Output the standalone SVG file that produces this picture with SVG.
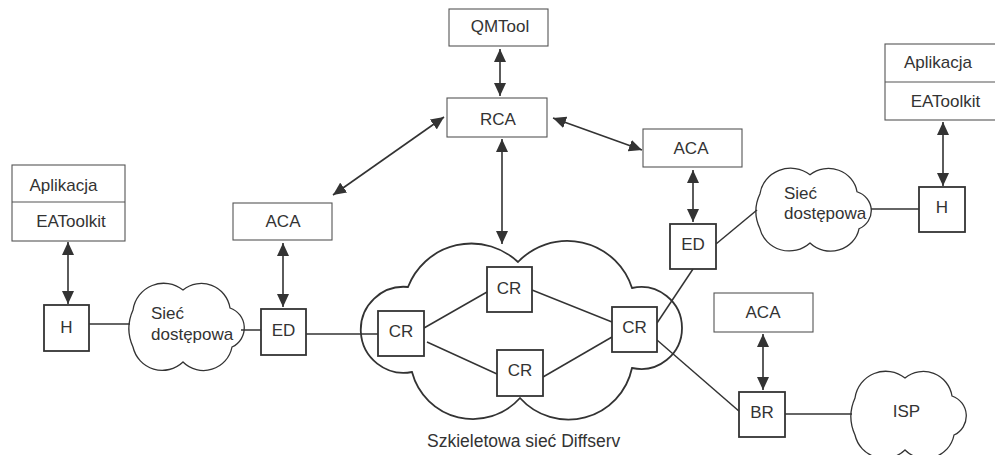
<svg xmlns="http://www.w3.org/2000/svg" width="995" height="455" viewBox="0 0 995 455">
  <style>
    text { font-family: "Liberation Sans", Arial, sans-serif; font-size: 17px; fill: #333; }
    .mid { text-anchor: middle; }
    .panel { fill: #fff; stroke: #555; stroke-width: 1.1; }
    .node { fill: #fff; stroke: #333; stroke-width: 1.8; }
    .cloud { fill: #fff; stroke: #333; stroke-width: 1.3; }
    .bigcloud { fill: #fff; stroke: #333; stroke-width: 1.8; }
    .link { stroke: #333; stroke-width: 1.5; fill: none; }
    .arrow { stroke: #333; stroke-width: 1.6; fill: none; marker-start: url(#head); marker-end: url(#head); }
  </style>
  <defs>
    <marker id="head" markerUnits="userSpaceOnUse" markerWidth="14" markerHeight="12" refX="13" refY="6" orient="auto-start-reverse">
      <path d="M0,0 L13,6 L0,12 z" fill="#333"/>
    </marker>
    <!-- small cloud outline, local origin at its top-left corner -->
    <path id="smallcloud" d="M4,27 A31,31 0 0 1 54,7 A29,29 0 0 1 101,25 A21,21 0 0 1 103,64 A29,29 0 0 1 54,79 A30,30 0 0 1 4,64 A45,45 0 0 1 4,27 Z"/>
  </defs>

  <rect width="995" height="455" fill="#fff"/>

  <!-- clouds -->
  <g id="backbone-cloud">
    <path class="bigcloud" d="M412,372 A43,43 0 1 1 408,287 A68,68 0 0 1 518,262 A68,68 0 0 1 632,288 A41,41 0 1 1 632,368 A65,65 0 0 1 520,398 A63,63 0 0 1 412,372 Z"/>
    <text x="427" y="447" style="font-size:17.5px">Szkieletowa sieć Diffserv</text>
  </g>
  <g id="access-left">
    <use href="#smallcloud" class="cloud" transform="translate(129,283)"/>
  </g>
  <g id="access-right">
    <use href="#smallcloud" class="cloud" transform="translate(756,168) scale(1,0.95)"/>
  </g>
  <g id="isp">
    <use href="#smallcloud" class="cloud" transform="translate(851,371)"/>
    <text class="mid" x="906.5" y="417">ISP</text>
  </g>

  <!-- connectors -->
  <g id="connectors">
    <line class="link" x1="89" y1="324" x2="130" y2="324"/>
    <line class="link" x1="241" y1="330" x2="261" y2="330"/>
    <line class="link" x1="306" y1="334" x2="378" y2="334"/>
    <line class="link" x1="424" y1="328" x2="487" y2="292"/>
    <line class="link" x1="427" y1="342" x2="497" y2="374"/>
    <line class="link" x1="532" y1="290" x2="612" y2="322"/>
    <line class="link" x1="543" y1="377" x2="612" y2="337"/>
    <line class="link" x1="693" y1="269" x2="657" y2="323"/>
    <line class="link" x1="657" y1="340" x2="740" y2="412"/>
    <line class="link" x1="716" y1="244" x2="757" y2="210"/>
    <line class="link" x1="871" y1="209" x2="919" y2="209"/>
    <line class="link" x1="785" y1="414" x2="852" y2="414"/>

    <line class="arrow" x1="68" y1="242" x2="68" y2="304"/>
    <line class="arrow" x1="283" y1="243" x2="283" y2="307"/>
    <line class="arrow" x1="500" y1="49" x2="500" y2="96"/>
    <line class="arrow" x1="502" y1="139" x2="502" y2="244"/>
    <line class="arrow" x1="444" y1="117" x2="333" y2="195"/>
    <line class="arrow" x1="553" y1="118" x2="642" y2="150"/>
    <line class="arrow" x1="693" y1="170" x2="693" y2="222"/>
    <line class="arrow" x1="943" y1="122" x2="943" y2="186"/>
    <line class="arrow" x1="763" y1="334" x2="763" y2="390"/>
  </g>

  <!-- access-network labels drawn over the connector ends -->
  <g id="access-left-label">
    <text x="151" y="319">Sieć</text>
    <text x="151" y="340">dostępowa</text>
  </g>
  <g id="access-right-label">
    <text x="784" y="199">Sieć</text>
    <text x="784" y="219">dostępowa</text>
  </g>

  <!-- control plane -->
  <g id="qmtool">
    <rect class="panel" x="449" y="9" width="99" height="37"/>
    <text class="mid" x="500" y="32">QMTool</text>
  </g>
  <g id="rca">
    <rect class="panel" x="447" y="98" width="100" height="39"/>
    <text class="mid" x="498" y="125">RCA</text>
  </g>
  <g id="aca-left">
    <rect class="panel" x="233" y="203" width="99" height="37"/>
    <text class="mid" x="283" y="227">ACA</text>
  </g>
  <g id="aca-right">
    <rect class="panel" x="643" y="129" width="99" height="38"/>
    <text class="mid" x="691" y="154">ACA</text>
  </g>
  <g id="aca-border">
    <rect class="panel" x="714" y="293" width="99" height="39"/>
    <text class="mid" x="763" y="318">ACA</text>
  </g>

  <!-- end hosts with application stack -->
  <g id="app-left">
    <rect class="panel" x="12" y="165" width="113" height="76"/>
    <line x1="12" y1="202" x2="125" y2="202" stroke="#555" stroke-width="1.1"/>
    <text class="mid" x="63.5" y="191">Aplikacja</text>
    <text class="mid" x="71" y="227">EAToolkit</text>
  </g>
  <g id="app-right">
    <rect class="panel" x="885" y="44" width="113" height="76"/>
    <line x1="885" y1="82" x2="998" y2="82" stroke="#555" stroke-width="1.1"/>
    <text class="mid" x="938" y="68">Aplikacja</text>
    <text class="mid" x="945.5" y="107">EAToolkit</text>
  </g>

  <!-- routers and hosts -->
  <g id="h-left">
    <rect class="node" x="44" y="305" width="45" height="46"/>
    <text class="mid" x="66.5" y="333">H</text>
  </g>
  <g id="ed-left">
    <rect class="node" x="261" y="309" width="45" height="46"/>
    <text class="mid" x="283.5" y="336">ED</text>
  </g>
  <g id="cr-left">
    <rect class="node" x="378" y="311" width="46" height="45"/>
    <text class="mid" x="401" y="337">CR</text>
  </g>
  <g id="cr-top">
    <rect class="node" x="487" y="267" width="45" height="45"/>
    <text class="mid" x="509" y="294">CR</text>
  </g>
  <g id="cr-bottom">
    <rect class="node" x="497" y="350" width="46" height="46"/>
    <text class="mid" x="520" y="376">CR</text>
  </g>
  <g id="cr-right">
    <rect class="node" x="612" y="307" width="45" height="45"/>
    <text class="mid" x="634.5" y="333">CR</text>
  </g>
  <g id="ed-right">
    <rect class="node" x="670" y="224" width="46" height="45"/>
    <text class="mid" x="693" y="250">ED</text>
  </g>
  <g id="h-right">
    <rect class="node" x="919" y="187" width="46" height="45"/>
    <text class="mid" x="942" y="213">H</text>
  </g>
  <g id="br">
    <rect class="node" x="739" y="392" width="46" height="45"/>
    <text class="mid" x="762" y="418">BR</text>
  </g>
</svg>
